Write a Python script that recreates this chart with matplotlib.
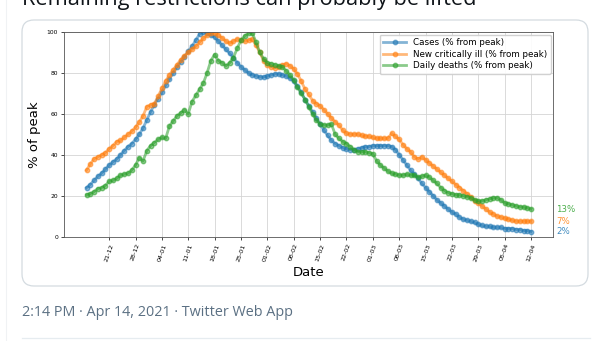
import pandas as pd
import matplotlib.pyplot as plt
import matplotlib.dates as mdates
from matplotlib.patches import FancyBboxPatch
from matplotlib.lines import Line2D
from matplotlib.transforms import IdentityTransform

# daily values, 15-12-2020 .. 12-04-2021 (% of peak)
start_date = "2020-12-15"
end_date = "2021-04-12"
first_tick = "2020-12-21"

cases = [24, 25.5, 27.5, 29.5, 31, 33, 35, 36.5, 38, 40,
         42, 44, 45.5, 47.5, 50, 53, 57, 61, 64.5, 67.5,
         70.5, 74, 77, 80, 83, 85.5, 88, 90.5, 93, 96,
         99, 100, 99.5, 98.5, 97.5, 95.5, 93.5, 91.5, 89.5, 87.5,
         85, 83, 81.5, 80, 79, 78.5, 78, 78, 78.5, 79,
         79.5, 79.5, 79, 78.5, 77.5, 76, 73.5, 70.5, 67, 64,
         61, 58, 55, 52, 49.5, 47, 45.5, 44.5, 43.5, 43,
         42.5, 42.5, 43, 43.5, 44, 44, 44.5, 44.5, 44.5, 44.5,
         44.5, 44, 42.5, 40, 37.5, 35, 32.5, 30.5, 28.5, 26,
         24, 22, 20, 18, 16.5, 15, 13.5, 12, 11, 9.5,
         8.5, 8, 7.5, 7, 6, 5.5, 5, 5, 4.5, 4.5,
         4.5, 4, 4, 4, 3.5, 3.5, 3, 3, 2.5]

critically_ill = [32.5, 35.5, 38, 39, 40, 41, 43, 44.5, 46.5, 47,
                  48.5, 50, 51.5, 53.5, 56, 59, 63.5, 64.5, 65, 68.5,
                  72.5, 76, 79, 81.5, 84, 86.5, 88.5, 90, 91.5, 93,
                  95, 97, 98.5, 99.5, 99.5, 98.5, 97, 95.5, 94.5, 95.5,
                  96.5, 96, 95.5, 96, 96.5, 93.5, 90, 86, 84, 83,
                  82.5, 83, 84, 84.5, 83.5, 82, 79.5, 76, 72, 69.5,
                  66.5, 65, 64, 62, 60, 58, 56, 54.5, 52, 50.5,
                  50, 50, 50, 49.5, 49, 49, 48.5, 48, 48, 48,
                  48, 50.5, 49, 47.5, 45, 43, 41.5, 39, 38, 39,
                  37.5, 36, 34.5, 33, 31.5, 30, 28.5, 27, 25.5, 24,
                  22.5, 21, 19.5, 17.5, 16.5, 15, 13.5, 12, 11, 10,
                  9.5, 9, 8.5, 8, 7.5, 7.5, 7.5, 7.5, 7.5]

deaths = [20.5, 21, 22, 23.5, 24, 25, 27, 27.5, 28.5, 30,
          30.5, 31, 32.5, 35, 38.5, 37, 42, 44.5, 46, 47.5,
          48.5, 48, 54, 56.5, 59, 60.5, 62, 60, 66, 69,
          72, 75, 80, 86, 89, 86, 85, 83.5, 85, 87.5,
          92, 96, 98, 99.5, 99.5, 95, 90, 87, 85, 84.5,
          84, 83.5, 83, 81, 79, 76.5, 73, 70, 67, 63.5,
          60, 57, 55, 54.5, 54.5, 55, 50, 48, 46.5, 45.5,
          44, 42.5, 41.5, 41.5, 41.5, 41, 40.5, 37, 35, 33.5,
          32, 31, 30.5, 30, 30, 30.5, 30, 30, 29, 29.5,
          30, 29, 27.5, 26, 24, 22.5, 21.5, 21, 20.5, 20.5,
          20, 19.5, 19, 18, 17.5, 17.5, 18, 18.5, 19, 19,
          18, 16.5, 16, 15.5, 15, 14.5, 14.5, 14, 13.5]

end_labels = ["2%", "7%", "13%"]

dates = pd.date_range(start_date, end_date, freq="D")
df = pd.DataFrame({"Cases (% from peak)": cases,
                   "New critically ill (% from peak)": critically_ill,
                   "Daily deaths (% from peak)": deaths}, index=dates)
colors = ["tab:blue", "tab:orange", "tab:green"]

W, H = 602, 341
fig = plt.figure(figsize=(W / 100, H / 100), dpi=100)

# tweet frame around the chart (drawn beneath the axes)
fig.add_artist(FancyBboxPatch((22, H - 286), 566, 266, boxstyle="round,pad=0,rounding_size=12",
                              transform=IdentityTransform(), facecolor="white",
                              edgecolor="#d4dbe0", linewidth=0.9, zorder=-5))
fig.add_artist(Line2D([6, 6], [0, H], transform=IdentityTransform(), color="#f0f2f4", lw=0.8, zorder=-5))
fig.add_artist(Line2D([22, 590], [3, 3], transform=IdentityTransform(), color="#e6ecf0", lw=0.9, zorder=-5))
fig.text(22 / W, 1 - 5 / H, "Remaining restrictions can probably be lifted", fontsize=15.7,
         family="Open Sans", va="baseline", ha="left", color="#0f1419")
fig.text(22 / W, 1 - 313 / H, "2:14 PM · Apr 14, 2021 · Twitter Web App", fontsize=10.4,
         family="Open Sans", va="center", ha="left", color="#5b7083")

ax = fig.add_axes([64.3 / W, 1 - 236.7 / H, (553.3 - 64.3) / W, (236.7 - 32) / H])
ax.set_facecolor("white")
for col, c in zip(df.columns, colors):
    ax.plot(df.index, df[col], marker="o", markersize=3.2, lw=2, color=c, alpha=0.55, label=col)

for col, c, lab in zip(df.columns, colors, end_labels):
    ax.text(df.index[-1] + pd.Timedelta(days=6.7), df[col].iloc[-1], lab, color=c,
            fontsize=6.2, va="center", ha="left", alpha=0.85)

ax.set_ylim(0, 100)
ax.set_yticks([0, 20, 40, 60, 80, 100])
ax.set_xticks(pd.date_range(first_tick, end_date, freq="7D"))
ax.xaxis.set_major_formatter(mdates.DateFormatter("%d-%m"))
ax.tick_params(axis="x", labelsize=4.6, labelrotation=70, length=2.5, width=0.5, pad=2)
ax.tick_params(axis="y", labelsize=4.3, length=2.5, width=0.5, pad=2)
ax.grid(True, color="#d5d5d5", lw=0.6)
ax.set_xlabel("Date", fontsize=9.5, labelpad=2.5)
ax.set_ylabel("% of peak", fontsize=9.5, labelpad=4)
for s in ax.spines.values():
    s.set_linewidth(0.6)
    s.set_color("#555555")
ax.legend(loc="upper right", fontsize=6.3, framealpha=0.9, borderaxespad=0.3,
          handlelength=2.6, labelspacing=0.3)

fig.savefig("out.png", dpi=100)
